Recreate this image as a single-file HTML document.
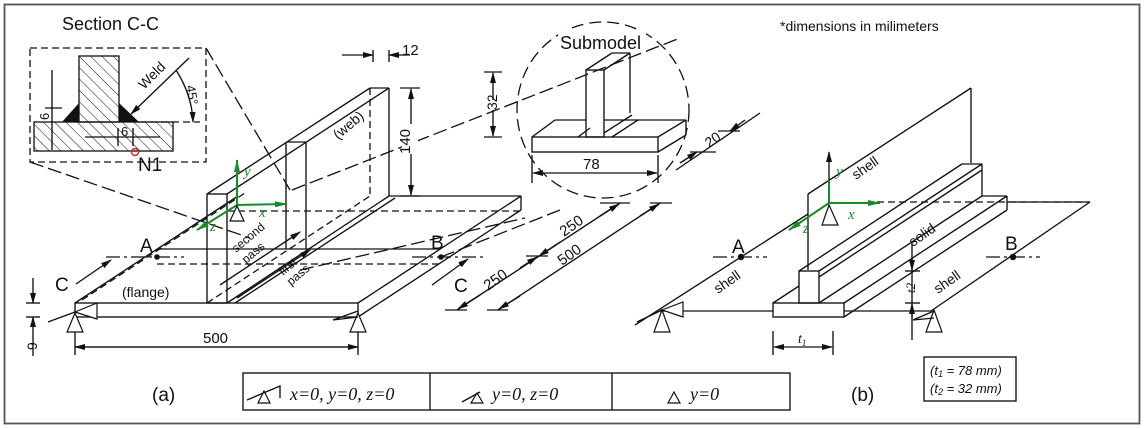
<!DOCTYPE html>
<html><head><meta charset="utf-8"><style>
html,body{margin:0;padding:0;background:#fff}
svg{display:block}
text{font-family:"Liberation Sans",sans-serif;fill:#111}
.s{stroke:#111;stroke-width:1.35;fill:none}
.d{stroke:#111;stroke-width:1.3;fill:none;stroke-dasharray:7 4}
.dd{stroke:#111;stroke-width:1.2;fill:none;stroke-dasharray:14 4 3 4}
.g{stroke:#1a8a2a;stroke-width:2;fill:none}
.it{font-family:"Liberation Serif",serif;font-style:italic}
</style></head><body>
<svg width="1144" height="428" viewBox="0 0 1144 428" xmlns="http://www.w3.org/2000/svg">
<defs>
<marker id="a" markerWidth="11" markerHeight="6" refX="10" refY="3" orient="auto" markerUnits="userSpaceOnUse"><path d="M0,0 L11,3 L0,6z" fill="#111"/></marker>
<marker id="ag" markerWidth="13" markerHeight="6" refX="12" refY="3" orient="auto" markerUnits="userSpaceOnUse"><path d="M0,0 L13,3 L0,6z" fill="#1a8a2a"/></marker>
<pattern id="h" width="8" height="8" patternUnits="userSpaceOnUse" patternTransform="rotate(-45)"><line x1="0" y1="0" x2="0" y2="8" stroke="#111" stroke-width="1"/></pattern>
</defs>
<rect x="4.5" y="4.5" width="1135" height="419" fill="none" stroke="#555" stroke-width="1.8"/>

<!-- Section C-C -->
<text x="62" y="30" font-size="18">Section C-C</text>
<rect x="30" y="48" width="176" height="114" class="d"/>
<rect x="79" y="56" width="40" height="66" fill="url(#h)" stroke="#111" stroke-width="1.3"/>
<rect x="34" y="122" width="139" height="29" fill="url(#h)" stroke="#111" stroke-width="1.3"/>
<path d="M62,122 L79,103 L79,122z M119,103 L139,122 L119,122z" fill="#111"/>
<line x1="52" y1="70" x2="52" y2="150" class="s"/>
<line x1="45" y1="108" x2="62" y2="108" class="s"/>
<text x="49" y="120" font-size="13" transform="rotate(-90 49 120)">6</text>
<line x1="189" y1="58" x2="131" y2="114" class="s" marker-end="url(#a)"/>
<text x="144" y="90" font-size="14" transform="rotate(-45 144 90)">Weld</text>
<path d="M176,70 Q192,95 193,122" class="s" marker-end="url(#a)"/>
<text x="186" y="86" font-size="13" transform="rotate(80 186 86)">45°</text>
<line x1="139" y1="122" x2="200" y2="122" class="d"/>
<line x1="85" y1="137" x2="160" y2="137" class="s"/>
<line x1="118" y1="128" x2="118" y2="146" class="s"/><line x1="133" y1="128" x2="133" y2="146" class="s"/>
<text x="121" y="136" font-size="13">6</text>
<circle cx="135" cy="152" r="3.5" fill="none" stroke="#e02020" stroke-width="1.4"/>
<text x="138" y="171" font-size="19">N1</text>
<line x1="206" y1="48" x2="290" y2="190" class="d" style="stroke-dasharray:14 5"/>
<line x1="30" y1="162" x2="250" y2="238" class="d" style="stroke-dasharray:14 5"/>

<!-- Main beam (a) -->
<rect x="75" y="303" width="283" height="14" class="s"/>
<line x1="75" y1="303" x2="238" y2="196" class="s"/>
<line x1="358" y1="303" x2="521" y2="196" class="s"/>
<line x1="358" y1="317" x2="521" y2="210" class="s"/>
<line x1="521" y1="196" x2="521" y2="210" class="s"/>
<line x1="389" y1="196" x2="521" y2="196" class="s"/>
<line x1="227" y1="211" x2="521" y2="211" class="d"/>
<line x1="82" y1="300" x2="245" y2="193" class="d"/>
<rect x="207" y="194" width="20" height="109" class="s"/>
<line x1="207" y1="194" x2="370" y2="88" class="s"/>
<line x1="227" y1="194" x2="389" y2="88" class="s"/>
<line x1="370" y1="88" x2="389" y2="88" class="s"/>
<line x1="389" y1="88" x2="389" y2="196" class="s"/>
<line x1="370" y1="88" x2="370" y2="196" class="d"/>
<line x1="227" y1="303" x2="389" y2="196" class="s"/>
<line x1="235" y1="303" x2="395" y2="198" class="s"/>
<line x1="286" y1="142" x2="286" y2="249" class="s"/>
<line x1="286" y1="142" x2="306" y2="142" class="s"/>
<line x1="306" y1="142" x2="306" y2="249" class="s"/>
<line x1="207" y1="303" x2="370" y2="196" class="d"/>
<line x1="220" y1="285" x2="300" y2="232" class="s" marker-end="url(#a)" stroke-width="2.2"/>
<line x1="237" y1="298" x2="310" y2="250" class="s" marker-end="url(#a)" stroke-width="2.2"/>
<text x="338" y="140" font-size="14" transform="rotate(-40 338 140)">(web)</text>
<text x="122" y="297" font-size="14">(flange)</text>
<text x="236" y="253" font-size="12" transform="rotate(-40 236 253)">second</text>
<text x="246" y="264" font-size="12" transform="rotate(-40 246 264)">pass</text>
<text x="283" y="276" font-size="12" transform="rotate(-40 283 276)">first</text>
<text x="291" y="286" font-size="12" transform="rotate(-40 291 286)">pass</text>
<line x1="157" y1="249" x2="439" y2="249" class="s"/>
<line x1="157" y1="264" x2="439" y2="264" class="d"/>
<line x1="106" y1="257" x2="184" y2="257" class="dd"/>
<line x1="412" y1="257" x2="486" y2="257" class="dd"/>
<circle cx="157" cy="257" r="2.8" fill="#111"/><circle cx="441" cy="257" r="2.8" fill="#111"/>
<text x="140" y="252" font-size="19">A</text><text x="431" y="249" font-size="19">B</text>
<line x1="441" y1="257" x2="560" y2="210" class="d" style="stroke-dasharray:14 5"/>
<line x1="300" y1="270" x2="525" y2="218" class="d" style="stroke-dasharray:14 5"/>
<line x1="292" y1="190" x2="680" y2="38" class="d" style="stroke-dasharray:14 5"/>
<text x="55" y="291" font-size="19">C</text>
<line x1="76" y1="284" x2="111" y2="260" class="s" stroke-width="2.2" marker-end="url(#a)"/>
<text x="454" y="292" font-size="19">C</text>
<line x1="432" y1="285" x2="468" y2="259" class="s" stroke-width="2.2" marker-end="url(#a)"/>
<line x1="237" y1="205" x2="237" y2="160" class="g" marker-end="url(#ag)"/>
<line x1="237" y1="205" x2="287" y2="204" class="g" marker-end="url(#ag)"/>
<line x1="237" y1="205" x2="197" y2="230" class="g" marker-end="url(#ag)"/>
<text x="244" y="176" font-size="15" class="it" style="fill:#1a8a2a">y</text>
<text x="259" y="217" font-size="15" class="it" style="fill:#1a8a2a">x</text>
<text x="210" y="231" font-size="15" class="it" style="fill:#1a8a2a">z</text>
<path d="M237,206 L230,221 L244,221z" fill="#fff" stroke="#111" stroke-width="1.2"/>
<line x1="373" y1="50" x2="373" y2="62" class="s"/><line x1="389" y1="50" x2="389" y2="62" class="s"/>
<line x1="342" y1="55" x2="373" y2="55" class="s" marker-end="url(#a)"/>
<line x1="410" y1="55" x2="389" y2="55" class="s" marker-end="url(#a)"/>
<text x="402" y="55" font-size="15">12</text>
<line x1="400" y1="88" x2="420" y2="88" class="s"/>
<line x1="400" y1="196" x2="420" y2="196" class="s"/>
<line x1="411" y1="150" x2="411" y2="89" class="s" marker-end="url(#a)"/>
<line x1="411" y1="150" x2="411" y2="195" class="s" marker-end="url(#a)"/>
<rect x="402" y="124" width="16" height="30" fill="#fff"/>
<text x="410" y="154" font-size="15" transform="rotate(-90 410 154)">140</text>
<line x1="26" y1="303" x2="40" y2="303" class="s"/><line x1="26" y1="317" x2="40" y2="317" class="s"/>
<line x1="33" y1="278" x2="33" y2="303" class="s" marker-end="url(#a)"/>
<line x1="33" y1="356" x2="33" y2="317" class="s" marker-end="url(#a)"/>
<text x="37" y="350" font-size="14" transform="rotate(-90 37 350)">9</text>
<line x1="75" y1="320" x2="75" y2="355" class="s"/><line x1="358" y1="320" x2="358" y2="355" class="s"/>
<line x1="75" y1="347" x2="358" y2="347" class="s" marker-end="url(#a)"/>
<line x1="358" y1="347" x2="75" y2="347" class="s" marker-end="url(#a)"/>
<text x="203" y="343" font-size="15">500</text>
<path d="M75,313 L67,332 L83,332z M75,312 L97,303 L97,319z" fill="#fff" stroke="#111" stroke-width="1.2"/>
<line x1="48" y1="322" x2="75" y2="312" class="s"/>
<path d="M358,313 L350,332 L366,332z" fill="#fff" stroke="#111" stroke-width="1.2"/>
<path d="M358,311 L333,320 L358,317" class="s"/>

<!-- submodel -->
<ellipse cx="603" cy="110" rx="86" ry="88" class="d" style="stroke-dasharray:12 6"/>
<rect x="558" y="30" width="88" height="22" fill="#fff"/>
<text x="560" y="49" font-size="18">Submodel</text>
<rect x="532" y="137" width="126" height="15" class="s"/>
<line x1="532" y1="137" x2="555" y2="120" class="s"/>
<line x1="555" y1="120" x2="586" y2="120" class="s"/>
<line x1="604" y1="120" x2="686" y2="120" class="s"/>
<line x1="658" y1="137" x2="686" y2="120" class="s"/>
<line x1="658" y1="152" x2="686" y2="135" class="s"/>
<line x1="686" y1="120" x2="686" y2="135" class="s"/>
<rect x="586" y="70" width="18" height="67" class="s" fill="#fff"/>
<line x1="586" y1="70" x2="612" y2="53" class="s"/>
<line x1="604" y1="70" x2="630" y2="53" class="s"/>
<line x1="612" y1="53" x2="630" y2="53" class="s"/>
<line x1="630" y1="53" x2="630" y2="113" class="s"/>
<line x1="604" y1="133" x2="632" y2="115" class="s"/>
<line x1="612" y1="137" x2="638" y2="120" class="s"/>
<line x1="578" y1="137" x2="590" y2="128" class="s"/>
<line x1="484" y1="72" x2="502" y2="72" class="s"/><line x1="484" y1="137" x2="502" y2="137" class="s"/>
<line x1="493" y1="100" x2="493" y2="73" class="s" marker-end="url(#a)"/>
<line x1="493" y1="110" x2="493" y2="136" class="s" marker-end="url(#a)"/>
<text x="497" y="110" font-size="14" transform="rotate(-90 497 110)">32</text>
<line x1="532" y1="155" x2="532" y2="183" class="s"/><line x1="658" y1="155" x2="658" y2="183" class="s"/>
<line x1="595" y1="173" x2="533" y2="173" class="s" marker-end="url(#a)"/>
<line x1="595" y1="173" x2="657" y2="173" class="s" marker-end="url(#a)"/>
<text x="583" y="169" font-size="15">78</text>
<line x1="676" y1="170" x2="760" y2="113" class="s"/>
<line x1="690" y1="152" x2="716" y2="152" class="s"/><line x1="718" y1="131" x2="740" y2="131" class="s"/>
<line x1="680" y1="163" x2="697" y2="152" class="s" marker-end="url(#a)"/>
<line x1="745" y1="120" x2="730" y2="131" class="s" marker-end="url(#a)"/>
<text x="709" y="148" font-size="14" transform="rotate(-35 709 148)">20</text>
<line x1="457" y1="310" x2="620" y2="203" class="s"/>
<line x1="498" y1="310" x2="660" y2="203" class="s"/>
<line x1="445" y1="310" x2="467" y2="310" class="s"/><line x1="487" y1="310" x2="508" y2="310" class="s"/>
<line x1="600" y1="203" x2="630" y2="203" class="s"/><line x1="650" y1="203" x2="672" y2="203" class="s"/>
<line x1="526" y1="256" x2="548" y2="256" class="s"/>
<line x1="480" y1="295" x2="458" y2="309" class="s" marker-end="url(#a)"/>
<line x1="520" y1="268" x2="537" y2="257" class="s" marker-end="url(#a)"/>
<line x1="560" y1="242" x2="539" y2="256" class="s" marker-end="url(#a)"/>
<line x1="600" y1="216" x2="619" y2="204" class="s" marker-end="url(#a)"/>
<line x1="520" y1="296" x2="499" y2="309" class="s" marker-end="url(#a)"/>
<line x1="640" y1="216" x2="659" y2="204" class="s" marker-end="url(#a)"/>
<text x="488" y="291" font-size="15" transform="rotate(-35 488 291)">250</text>
<text x="564" y="237" font-size="15" transform="rotate(-35 564 237)">250</text>
<text x="562" y="266" font-size="15" transform="rotate(-35 562 266)">500</text>

<!-- legend -->
<rect x="243" y="373" width="547" height="37" class="s"/>
<line x1="430" y1="373" x2="430" y2="410" class="s"/>
<line x1="612" y1="373" x2="612" y2="410" class="s"/>
<text x="152" y="401" font-size="19">(a)</text>
<path d="M264,391 L258,403 L270,403z" fill="#fff" stroke="#111" stroke-width="1.2"/>
<path d="M247,400 L280,386 L280,398" class="s"/>
<text x="290" y="400" font-size="18" class="it">x=0, y=0, z=0</text>
<path d="M477,393 L471,403 L483,403z" fill="#fff" stroke="#111" stroke-width="1.2"/>
<path d="M462,402 L480,392" class="s"/>
<text x="492" y="400" font-size="18" class="it">y=0, z=0</text>
<path d="M674,392 L668,403 L680,403z" fill="#fff" stroke="#111" stroke-width="1.2"/>
<text x="690" y="400" font-size="18" class="it">y=0</text>

<!-- panel b -->
<text x="780" y="31" font-size="14">*dimensions in milimeters</text>
<line x1="660" y1="311" x2="773" y2="311" class="s"/>
<line x1="844" y1="311" x2="931" y2="311" class="s"/>
<line x1="635" y1="325" x2="808" y2="214" class="s"/>
<line x1="931" y1="311" x2="1090" y2="202" class="s"/>
<line x1="877" y1="202" x2="1090" y2="202" class="d"/>
<line x1="1007" y1="202" x2="1090" y2="202" class="s"/>
<line x1="808" y1="270" x2="808" y2="194" class="s"/>
<line x1="808" y1="194" x2="971" y2="88" class="s"/>
<line x1="971" y1="88" x2="971" y2="163" class="s"/>
<rect x="773" y="303" width="71" height="14" class="s" fill="#fff"/>
<line x1="773" y1="303" x2="799" y2="286" class="s"/>
<line x1="819" y1="303" x2="982" y2="196" class="s"/>
<line x1="844" y1="303" x2="1007" y2="196" class="s"/>
<line x1="844" y1="317" x2="1007" y2="210" class="s"/>
<line x1="1007" y1="196" x2="1007" y2="210" class="s"/>
<line x1="982" y1="196" x2="1007" y2="196" class="s"/>
<rect x="799" y="271" width="20" height="32" class="s" fill="#fff"/>
<line x1="799" y1="271" x2="962" y2="164" class="s"/>
<line x1="819" y1="271" x2="982" y2="164" class="s"/>
<line x1="962" y1="164" x2="982" y2="164" class="s"/>
<line x1="982" y1="164" x2="982" y2="196" class="s"/>
<line x1="819" y1="277" x2="982" y2="170" class="s"/>
<line x1="829" y1="203" x2="829" y2="152" class="s" stroke-width="2" marker-end="url(#a)"/>
<line x1="829" y1="203" x2="829" y2="180" class="g"/>
<line x1="829" y1="203" x2="880" y2="203" class="g" marker-end="url(#ag)"/>
<line x1="829" y1="203" x2="789" y2="230" class="g" marker-end="url(#ag)"/>
<text x="836" y="176" font-size="15" class="it" style="fill:#1a8a2a">y</text>
<text x="848" y="219" font-size="15" class="it" style="fill:#1a8a2a">x</text>
<text x="803" y="233" font-size="15" class="it" style="fill:#1a8a2a">z</text>
<path d="M829,205 L822,225 L838,225z" fill="#fff" stroke="#111" stroke-width="1.2"/>
<text x="856" y="180" font-size="14" transform="rotate(-35 856 180)">shell</text>
<text x="913" y="247" font-size="14" transform="rotate(-35 913 247)">solid</text>
<text x="718" y="294" font-size="14" transform="rotate(-35 718 294)">shell</text>
<text x="938" y="294" font-size="14" transform="rotate(-35 938 294)">shell</text>
<line x1="713" y1="257" x2="767" y2="257" class="dd"/>
<line x1="986" y1="257" x2="1040" y2="257" class="dd"/>
<circle cx="741" cy="257" r="3.2" fill="#111"/><circle cx="1013" cy="257" r="3.2" fill="#111"/>
<text x="732" y="253" font-size="19">A</text><text x="1005" y="250" font-size="19">B</text>
<line x1="912" y1="243" x2="912" y2="340" class="s"/>
<line x1="905" y1="271" x2="920" y2="271" class="s"/><line x1="905" y1="303" x2="920" y2="303" class="s"/>
<line x1="912" y1="258" x2="912" y2="270" class="s" marker-end="url(#a)"/>
<line x1="912" y1="318" x2="912" y2="304" class="s" marker-end="url(#a)"/>
<text x="915" y="293" font-size="13" class="it" transform="rotate(-90 915 293)">t2</text>
<line x1="773" y1="331" x2="773" y2="355" class="s"/><line x1="833" y1="331" x2="833" y2="355" class="s"/>
<line x1="803" y1="347" x2="774" y2="347" class="s" marker-end="url(#a)"/>
<line x1="803" y1="347" x2="832" y2="347" class="s" marker-end="url(#a)"/>
<text x="798" y="343" font-size="14" class="it">t<tspan font-size="9" dy="3">1</tspan></text>
<path d="M662,310 L654,332 L670,332z" fill="#fff" stroke="#111" stroke-width="1.2"/>
<path d="M662,310 L683,302 L683,317z" fill="#fff" stroke="#111" stroke-width="1.2"/>
<line x1="637" y1="322" x2="662" y2="310" class="s"/>
<path d="M934,310 L926,332 L942,332z" fill="#fff" stroke="#111" stroke-width="1.2"/>
<path d="M934,311 L913,320 L934,318" class="s"/>
<rect x="924" y="357" width="92" height="44" class="s"/>
<text x="930" y="375" font-size="13" style="font-style:italic">(t<tspan font-size="9" dy="2">1</tspan><tspan dy="-2"> = 78 mm)</tspan></text>
<text x="930" y="393" font-size="13" style="font-style:italic">(t<tspan font-size="9" dy="2">2</tspan><tspan dy="-2"> = 32 mm)</tspan></text>
<text x="851" y="401" font-size="19">(b)</text>
</svg>
</body></html>
